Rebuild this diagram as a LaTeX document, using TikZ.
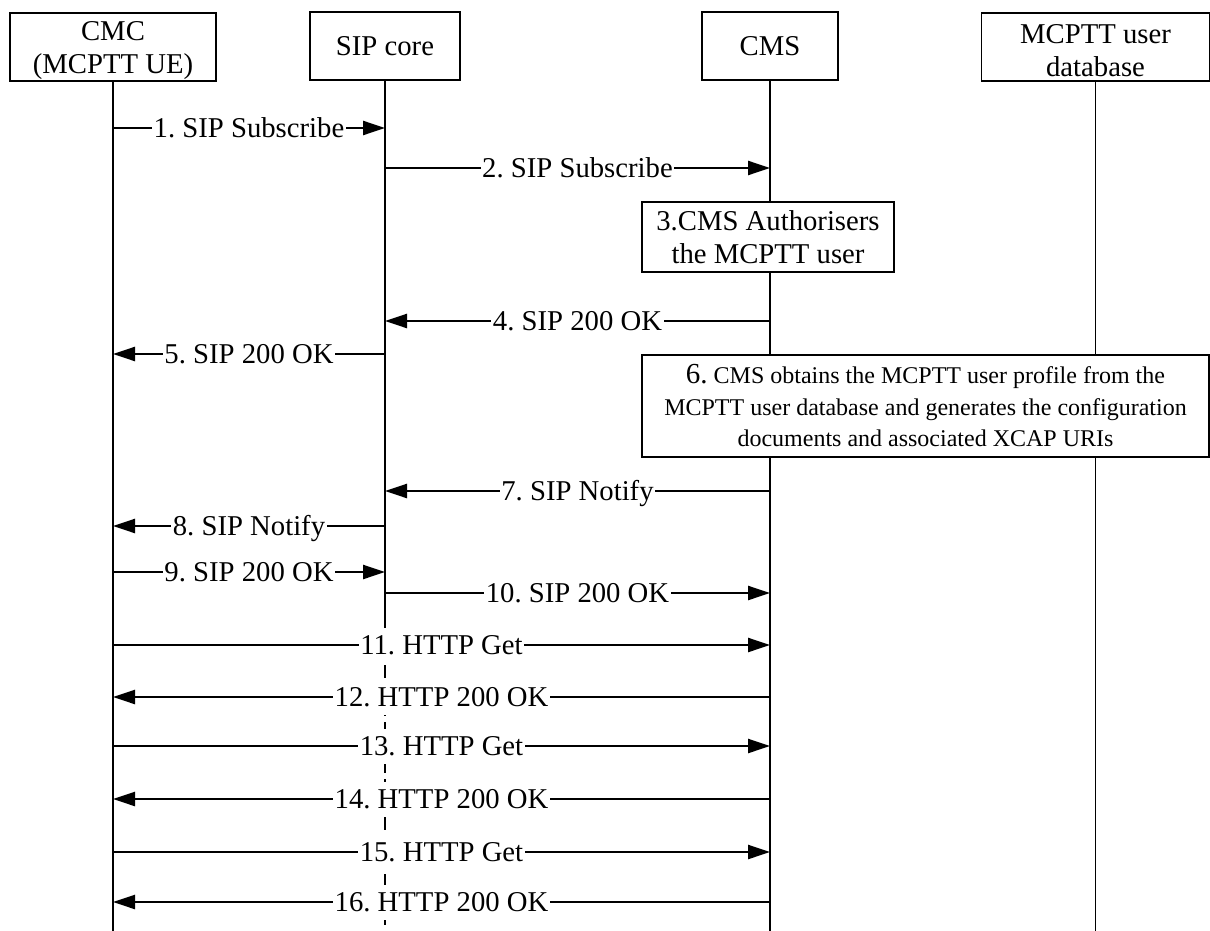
\documentclass[tikz,border=0pt]{standalone}
\usepackage{fontspec}
\setmainfont{Liberation Serif}
\usetikzlibrary{arrows.meta,positioning,backgrounds}

\newcommand{\topstrut}{\rule{0pt}{26.4pt}}

\tikzset{
  entity/.style={draw, fill=white, line width=1.8pt, minimum height=68pt, align=center, inner sep=0pt,
    font=\fontsize{28.7}{33.5}\selectfont},
  action/.style={draw, fill=white, line width=1.8pt, align=center, inner sep=2pt},
  lifeline/.style={line width=1.8pt},
  msg/.style={line width=2.4pt, -{Triangle[length=22pt,width=14pt]}},
  msglabel/.style={fill=white, inner xsep=1.5pt, inner ysep=1pt, text height=26pt, text depth=7pt}
}

\begin{document}
\frenchspacing
\begin{tikzpicture}[x=1pt, y=-1pt, font=\fontsize{28.7}{33}\selectfont]
        \useasboundingbox (0,0) rectangle (1210,931);

        \node[entity, minimum width=206pt] (cmc) at (113,47) {\topstrut CMC\\(MCPTT UE)};
        \node[entity, minimum width=150pt] (sip) at (385,46) {SIP core};
        \node[entity, minimum width=136pt] (cms) at (770,46) {CMS};
        \node[entity, minimum width=228pt] (db) at (1095.5,47) {\topstrut MCPTT user\\database};

        \coordinate (bottom) at (0,931);
        \coordinate (cut) at (0,627);
        \begin{scope}[on background layer]
          \draw[lifeline] (cmc.south) -- (cmc |- bottom);
          \draw[lifeline] (sip.south) -- (sip |- cut);
          \draw[lifeline, dash pattern=on 13pt off 6pt] (sip |- cut) -- (sip |- bottom);
          \draw[lifeline] (cms.south) -- (cms |- bottom);
          \draw[lifeline] (db.south) -- (db |- bottom);
        \end{scope}

        \node[action, minimum width=252pt, minimum height=70pt] (auth) at (768,237) {3.CMS Authorisers\\the MCPTT user};
        \node[action, minimum width=567pt, minimum height=102pt, font=\fontsize{24}{31.5}\selectfont] (profile) at (925.5,406)
          {{\fontsize{29}{31.5}\selectfont 6.} CMS obtains the MCPTT user profile from the\\
           MCPTT user database and generates the configuration\\
           documents and associated XCAP URIs};

        \foreach \y/\a/\b/\t in {128/cmc/sip/1. SIP Subscribe, 168/sip/cms/2. SIP Subscribe,
            321/cms/sip/4. SIP 200 OK, 354/sip/cmc/5. SIP 200 OK,
            491/cms/sip/7. SIP Notify, 526/sip/cmc/8. SIP Notify,
            572/cmc/sip/9. SIP 200 OK, 593/sip/cms/10. SIP 200 OK,
            645/cmc/cms/11. HTTP Get, 697/cms/cmc/12. HTTP 200 OK,
            746/cmc/cms/13. HTTP Get, 799/cms/cmc/14. HTTP 200 OK,
            852/cmc/cms/15. HTTP Get, 902/cms/cmc/16. HTTP 200 OK}
        {
          \coordinate (row) at (0,\y);
          \draw[msg] (\a |- row) -- (\b |- row) node[midway, msglabel] {\t};
        }
\end{tikzpicture}
\end{document}
